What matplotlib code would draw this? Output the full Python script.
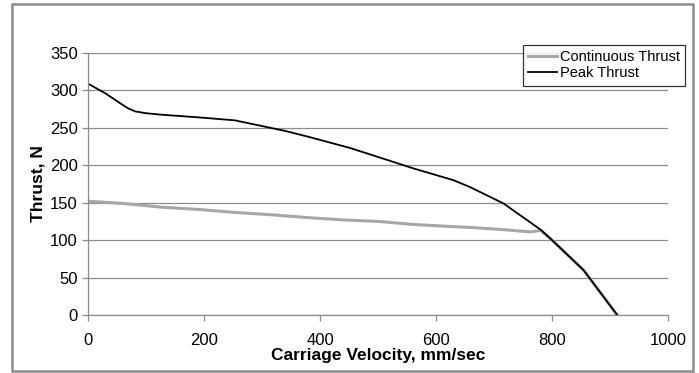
import matplotlib.pyplot as plt
from matplotlib.patches import Rectangle

plt.rcParams['font.family'] = ['Liberation Sans', 'DejaVu Sans']

# Peak thrust curve (velocity mm/sec, thrust N)
peak_v = [0, 30, 55, 69, 81, 100, 127, 190, 253, 339, 380, 452, 500, 560, 630, 658, 716, 780, 797, 854, 912]
peak_f = [309, 296, 283, 276, 272, 269.5, 267.5, 264, 260, 246, 238, 223, 211, 196, 180, 171, 149, 114, 102, 60, 0]

# Continuous thrust curve
cont_v = [0, 60, 127, 190, 253, 314, 380, 440, 500, 560, 630, 658, 716, 762, 780, 797, 854, 912]
cont_f = [152, 149, 144, 141, 137, 134, 130, 127, 125, 121, 118, 117, 114, 111, 113, 102, 60, 0]

fig = plt.figure(figsize=(6.99, 3.73), dpi=100)
ax = fig.add_axes([0.126, 0.1555, 0.83, 0.7025])

ax.plot(cont_v, cont_f, color='#a6a6a6', lw=2.2, label='Continuous Thrust')
ax.plot(peak_v, peak_f, color='black', lw=1.3, label='Peak Thrust')

ax.set_xlim(0, 1000)
ax.set_ylim(0, 350)
ax.set_xticks(range(0, 1001, 200))
ax.set_yticks(range(0, 351, 50))
ax.yaxis.grid(True, color='#8c8c8c', lw=0.9)
ax.set_axisbelow(True)

for s in ['top', 'right']:
    ax.spines[s].set_visible(False)
for s in ['left', 'bottom']:
    ax.spines[s].set_color('#8c8c8c')
    ax.spines[s].set_linewidth(0.9)
ax.tick_params(axis='both', colors='#8c8c8c', length=4, width=0.9, labelcolor='black', labelsize=12)
ax.tick_params(axis='x', pad=9)

ax.set_xlabel('Carriage Velocity, mm/sec', fontsize=12.5, fontweight='bold', labelpad=0)
ax.set_ylabel('Thrust, N', fontsize=12.5, fontweight='bold', labelpad=3)

leg = ax.legend(loc='upper left', bbox_to_anchor=(0.75, 1.03), fontsize=10.5, frameon=True,
                fancybox=False, edgecolor='black', handlelength=2.0, handletextpad=0.15,
                borderpad=0.35, labelspacing=0.15, borderaxespad=0)
leg.get_frame().set_linewidth(0.9)

# outer chart border
fig.patches.append(Rectangle((12 / 699, 2 / 373), 681 / 699, 367 / 373, transform=fig.transFigure,
                             fill=False, edgecolor='#8c8c8c', lw=1.8))

fig.savefig('out.png', dpi=100)
